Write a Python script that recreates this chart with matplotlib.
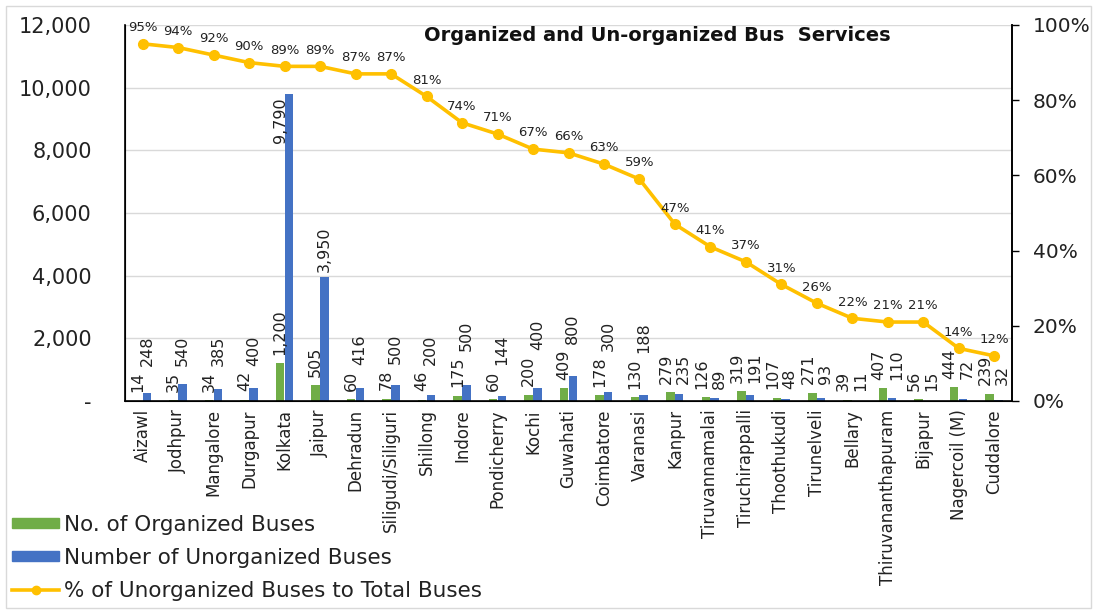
import numpy as np
import matplotlib
matplotlib.use("Agg")
from matplotlib import pyplot as plt
from matplotlib.patches import Rectangle, Patch
from matplotlib.lines import Line2D
from matplotlib.ticker import FuncFormatter

plt.rcParams['font.family'] = ['DejaVu Sans']

cities = ['Aizawl', 'Jodhpur', 'Mangalore', 'Durgapur', 'Kolkata', 'Jaipur', 'Dehradun',
          'Siligudi/Siliguri', 'Shillong', 'Indore', 'Pondicherry', 'Kochi', 'Guwahati',
          'Coimbatore', 'Varanasi', 'Kanpur', 'Tiruvannamalai', 'Tiruchirappalli',
          'Thoothukudi', 'Tirunelveli', 'Bellary', 'Thiruvananthapuram', 'Bijapur',
          'Nagercoil (M)', 'Cuddalore']
organized = [14, 35, 34, 42, 1200, 505, 60, 78, 46, 175, 60, 200, 409, 178, 130, 279,
             126, 319, 107, 271, 39, 407, 56, 444, 239]
unorganized = [248, 540, 385, 400, 9790, 3950, 416, 500, 200, 500, 144, 400, 800, 300,
               188, 235, 89, 191, 48, 93, 11, 110, 15, 72, 32]
pct_unorg = [95, 94, 92, 90, 89, 89, 87, 87, 81, 74, 71, 67, 66, 63, 59, 47, 41, 37,
             31, 26, 22, 21, 21, 14, 12]

GREEN = '#70AD47'
BLUE = '#4472C4'
GOLD = '#FFC000'
LBL = 11.5

W, H = 1097, 612
fig = plt.figure(figsize=(W / 100, H / 100), dpi=100)
# chart area border
fig.patches.append(Rectangle((6 / W, 4 / H), (W - 12) / W, (H - 10) / H, transform=fig.transFigure,
                             fill=False, edgecolor='#D9D9D9', linewidth=1))

ax = fig.add_axes([125 / W, (H - 401) / H, (1012 - 125) / W, (401 - 25) / H])
x = np.arange(len(cities))
bw = 0.24
ax.bar(x - 0.13, organized, bw, color=GREEN, zorder=2)
ax.bar(x + 0.12, unorganized, bw, color=BLUE, zorder=2)
ax.set_xlim(-0.5, len(cities) - 0.5)
ax.set_ylim(0, 12000)
ax.set_yticks(np.arange(0, 12001, 2000))
ax.yaxis.set_major_formatter(FuncFormatter(lambda v, p: '-' if v == 0 else f'{int(v):,}'))
ax.grid(axis='y', color='#D9D9D9', linewidth=1, zorder=0)
ax.set_axisbelow(True)
ax.set_xticks(x)
ax.set_xticklabels(cities, rotation=90, fontsize=12, color='#222222')
ax.tick_params(axis='x', length=0, pad=6)
ax.tick_params(axis='y', length=0, labelsize=15, pad=24, colors='#222222')
ax.spines['top'].set_visible(False)
for s in ['left', 'right', 'bottom']:
    ax.spines[s].set_color('black')
    ax.spines[s].set_linewidth(1.2)

ax2 = ax.twinx()
ax2.plot(x, np.array(pct_unorg) / 100, color=GOLD, linewidth=2.6, marker='o', markersize=7, zorder=3)
ax2.set_ylim(0, 1)
ax2.set_yticks(np.arange(0, 1.01, 0.2))
ax2.yaxis.set_major_formatter(FuncFormatter(lambda v, p: f'{v * 100:.0f}%'))
ax2.tick_params(axis='y', direction='out', length=5, width=1, labelsize=14.5, pad=10,
                colors='black', labelcolor='#222222')
ax2.spines['top'].set_visible(False)
ax2.spines['right'].set_linewidth(1.2)
for xi, p in zip(x, pct_unorg):
    ax2.annotate(f'{p}%', (xi, p / 100), xytext=(0, 7), textcoords='offset points',
                 ha='center', va='bottom', fontsize=9.5, color='#222222')

ax.set_title('Organized and Un-organized Bus  Services', fontsize=14, fontweight='bold',
             x=0.6, y=0.997, pad=0, va='top', color='#111111')

# bar labels: green first, blue stacked above it (or beside it when the green bar is taller)
renderer = fig.canvas.get_renderer()
inv = ax.transData.inverted()
for i in x:
    o, u = organized[i], unorganized[i]
    if o > u:
        ax.annotate(f'{o:,}', (i - 0.25, o), xytext=(0, 6), textcoords='offset points',
                    rotation=90, ha='center', va='bottom', fontsize=LBL, color='#222222', zorder=4)
        ax.annotate(f'{u:,}', (i + 0.24, o), xytext=(0, 6), textcoords='offset points',
                    rotation=90, ha='center', va='bottom', fontsize=LBL, color='#222222', zorder=4)
        continue
    tg = ax.annotate(f'{o:,}', (i - 0.13, o), xytext=(0, 6), textcoords='offset points',
                     rotation=90, ha='center', va='bottom', fontsize=LBL, color='#222222', zorder=4)
    if u > 5000:
        ax.annotate(f'{u:,}', (i - 0.12, u), xytext=(0, -2), textcoords='offset points',
                    rotation=90, ha='center', va='top', fontsize=LBL, color='#222222', zorder=4)
        continue
    top = inv.transform((0, tg.get_window_extent(renderer).y1))[1]
    ax.annotate(f'{u:,}', (i + 0.12, max(u, top)), xytext=(0, 4), textcoords='offset points',
                rotation=90, ha='center', va='bottom', fontsize=LBL, color='#222222', zorder=4)

handles = [Patch(color=GREEN), Patch(color=BLUE),
           Line2D([], [], color=GOLD, linewidth=2.6, marker='o', markersize=6)]
labels = ['No. of Organized Buses', 'Number of Unorganized Buses', '% of Unorganized Buses to Total Buses']
fig.legend(handles, labels, loc='upper left', bbox_to_anchor=(12 / W, (H - 515) / H), frameon=False,
           fontsize=15.5, handlelength=2.2, handleheight=0.35, handletextpad=0.2, labelspacing=0.6,
           borderpad=0, borderaxespad=0, labelcolor='#222222')

fig.savefig('out.png', dpi=100)
